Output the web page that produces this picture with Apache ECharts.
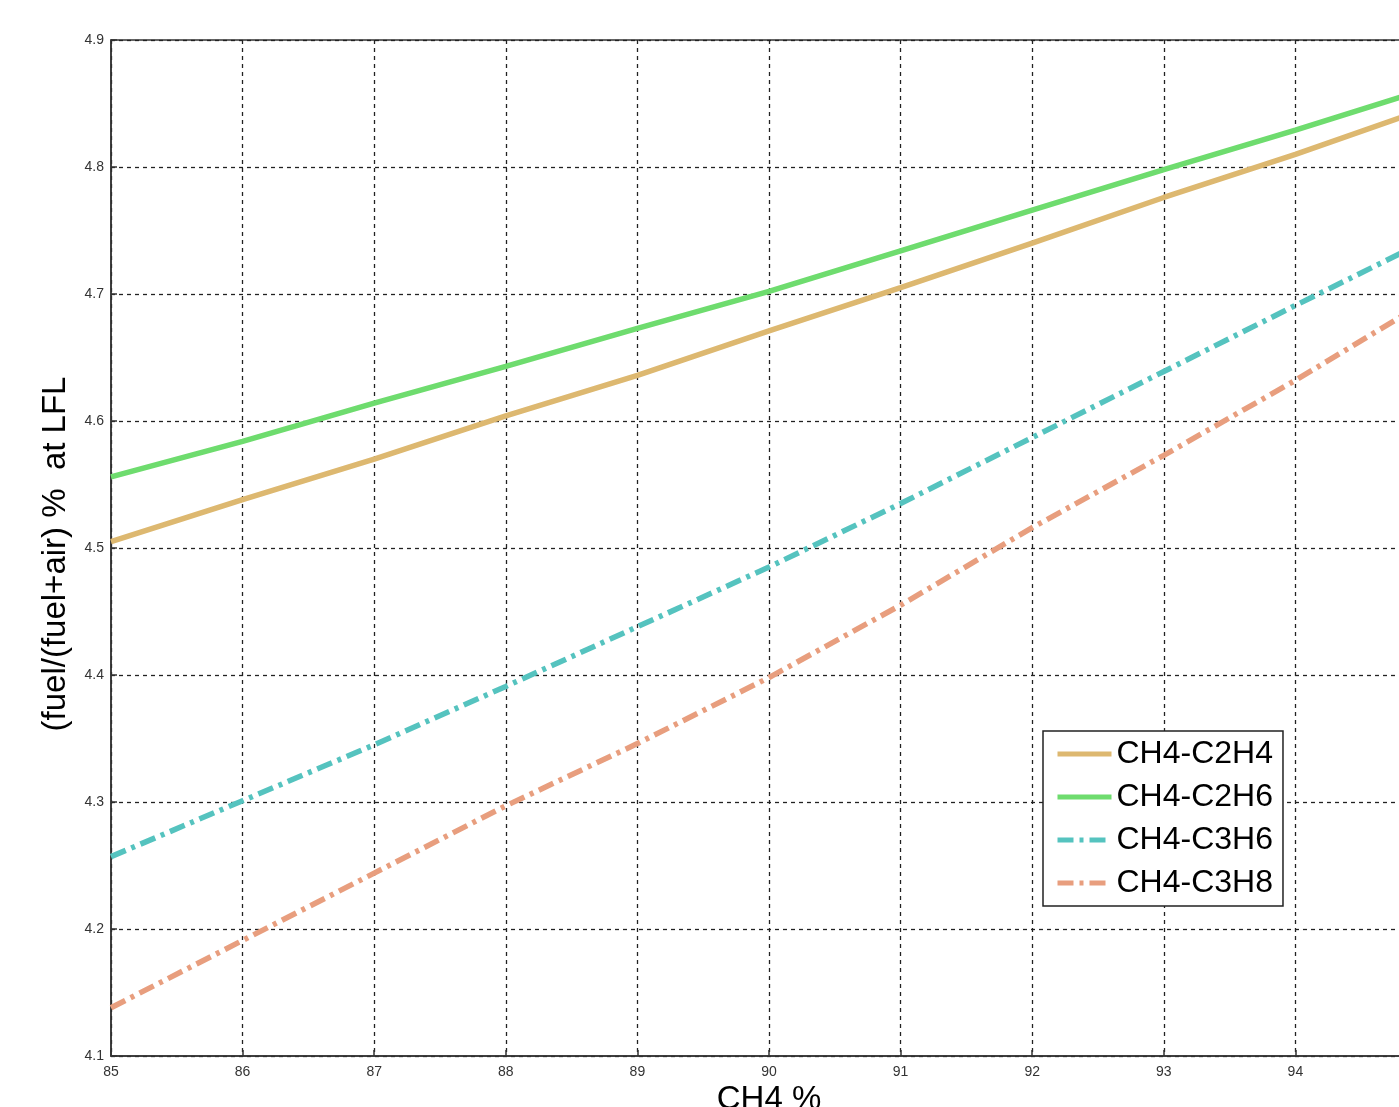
<!DOCTYPE html>
<html>
<head>
<meta charset="utf-8">
<script src="https://cdn.jsdelivr.net/npm/echarts@6/dist/echarts.min.js"></script>
<style>html,body{margin:0;padding:0;background:#fff;}#c{width:1399px;height:1107px;}</style>
</head>
<body>
<div id="c"></div>
<script>
const xValues = [85, 86, 87, 88, 89, 90, 91, 92, 93, 94, 94.8];
const c2h4 = [4.505, 4.538, 4.570, 4.604, 4.636, 4.671, 4.705, 4.740, 4.776, 4.810, 4.839];
const c2h6 = [4.556, 4.584, 4.614, 4.643, 4.673, 4.702, 4.734, 4.766, 4.798, 4.829, 4.855];
const c3h6 = [4.257, 4.301, 4.345, 4.391, 4.438, 4.485, 4.535, 4.587, 4.639, 4.691, 4.732];
const c3h8 = [4.138, 4.191, 4.244, 4.297, 4.346, 4.398, 4.455, 4.516, 4.573, 4.632, 4.682];
const seriesNames = ['CH4-C2H4', 'CH4-C2H6', 'CH4-C3H6', 'CH4-C3H8'];
const xTitle = 'CH4 %';
const yTitle = '(fuel/(fuel+air) %  at LFL';

const pair = (ys) => xValues.map((x, i) => [x, ys[i]]);
const dashDot = [16, 6, 4, 6];
const chart = echarts.init(document.getElementById('c'), null, {renderer: 'canvas'});
const gridLine = {show: true, lineStyle: {color: '#222', type: [4, 4], width: 1.3}};
const font = 'Liberation Sans, Arial';
chart.setOption({
  animation: false,
  backgroundColor: '#fff',
  grid: {left: 111, top: 40, width: 1316, height: 1016, show: true, borderColor: '#333', borderWidth: 1.5, containLabel: false, outerBoundsMode: 'none'},
  xAxis: {
    type: 'value', min: 85, max: 95, interval: 1,
    name: xTitle, nameLocation: 'middle', nameGap: 25,
    nameTextStyle: {fontFamily: font, fontSize: 33, color: '#000'},
    axisLine: {show: true, onZero: false, lineStyle: {color: '#333', width: 1.5}},
    axisTick: {show: true, inside: true, length: 6, lineStyle: {color: '#333', width: 1.5}},
    axisLabel: {fontFamily: font, fontSize: 14, color: '#333', margin: 9},
    splitLine: gridLine
  },
  yAxis: {
    type: 'value', min: 4.1, max: 4.9, interval: 0.1,
    name: yTitle, nameLocation: 'middle', nameGap: 39, nameRotate: 90,
    nameTextStyle: {fontFamily: font, fontSize: 33, color: '#000', padding: [0, 12, 0, 0]},
    axisLine: {show: true, onZero: false, lineStyle: {color: '#333', width: 1.5}},
    axisTick: {show: true, inside: true, length: 6, lineStyle: {color: '#333', width: 1.5}},
    axisLabel: {fontFamily: font, fontSize: 14, color: '#333', margin: 7, formatter: v => v.toFixed(1)},
    splitLine: gridLine
  },
  legend: {
    orient: 'vertical', left: 1043, top: 731,
    padding: [7, 10, 7, 12],
    backgroundColor: '#fff', borderColor: '#222', borderWidth: 1.5,
    itemWidth: 54, itemHeight: 14, itemGap: 11,
    itemStyle: {opacity: 0},
    lineStyle: {width: 5},
    textStyle: {fontFamily: font, fontSize: 32, color: '#000', padding: [0, 0, 0, 0]},
    data: seriesNames
  },
  series: [
    {name: seriesNames[0], type: 'line', data: pair(c2h4), showSymbol: false, symbol: 'none', lineStyle: {color: '#DDB870', width: 5.5}, itemStyle: {color: '#DDB870'}},
    {name: seriesNames[1], type: 'line', data: pair(c2h6), showSymbol: false, symbol: 'none', lineStyle: {color: '#6EDC6E', width: 5.5}, itemStyle: {color: '#6EDC6E'}},
    {name: seriesNames[2], type: 'line', data: pair(c3h6), showSymbol: false, symbol: 'none', lineStyle: {color: '#55C3BF', width: 5.5, type: dashDot}, itemStyle: {color: '#55C3BF'}},
    {name: seriesNames[3], type: 'line', data: pair(c3h8), showSymbol: false, symbol: 'none', lineStyle: {color: '#E89E7E', width: 5.5, type: dashDot}, itemStyle: {color: '#E89E7E'}}
  ]
});
</script>
</body>
</html>
